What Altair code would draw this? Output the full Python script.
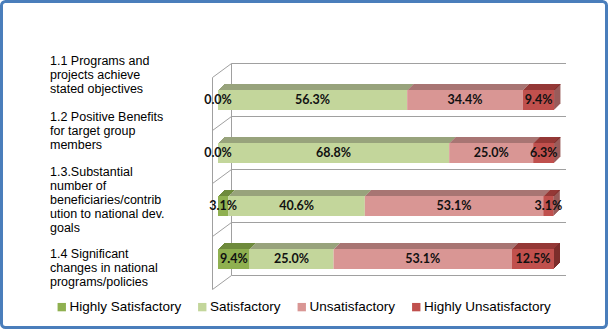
import altair as alt
import pandas as pd

# ---------------- data ----------------
categories = [
    "1.1 Programs and\nprojects achieve\nstated objectives",
    "1.2 Positive Benefits\nfor target group\nmembers",
    "1.3.Substantial\nnumber of\nbeneficiaries/contrib\nution to national dev.\ngoals",
    "1.4 Significant\nchanges in national\nprograms/policies",
]
ratings = ["Highly Satisfactory", "Satisfactory", "Unsatisfactory", "Highly Unsatisfactory"]
highly_satisfactory = [0.0, 0.0, 3.1, 9.4]
satisfactory = [56.3, 68.8, 40.6, 25.0]
unsatisfactory = [34.4, 25.0, 53.1, 53.1]
highly_unsatisfactory = [9.4, 6.3, 3.1, 12.5]

# ---------------- layout / style ----------------
W, H = 608, 330
X_RANGE = [218, 554]
Y_RANGE = [63.5, 275.5]
XPX = (X_RANGE[1] - X_RANGE[0]) / 100.0
YPX = (Y_RANGE[1] - Y_RANGE[0]) / len(categories)
BAR_H = 20
DEPTH = 6
LINE_H = 14
LABEL_SHIFT = [-15, -12.5, 3.5, 19]   # px, vertical shift of the category label blocks
front_colors = ["#8FB050", "#C3D69B", "#D99694", "#C0504D"]
top_colors = ["#6E8A3C", "#98A37C", "#A87573", "#943836"]
side_color = "#7C2D2B"
grid_color = "#A0A0A0"

xs = alt.Scale(domain=[0, 100], range=X_RANGE, nice=False, zero=False)
ys = alt.Scale(domain=[0, len(categories)], range=Y_RANGE, nice=False, zero=False)

series = [highly_satisfactory, satisfactory, unsatisfactory, highly_unsatisfactory]

fronts, tops, sides, labels = [], [], [], []
for i in range(len(categories)):
    start = 0.0
    yc = i + 0.5
    for r, vals in enumerate(series):
        v = vals[i]
        end = start + v
        labels.append(dict(x=(start + end) / 2, y=yc + (BAR_H / 2) / YPX, text=f"{v:.1f}%"))
        if v > 0:
            fronts.append(dict(rating=ratings[r], x=start, x2=end, y=yc, y2=yc + BAR_H / YPX))
            for k in range(1, DEPTH + 1):
                tops.append(dict(col=top_colors[r], x=start + k / XPX, x2=end + k / XPX,
                                 y=yc - k / YPX, y2=yc - (k - 1) / YPX))
        start = end
    for k in range(1, DEPTH + 1):
        sides.append(dict(col=side_color, x=start + (k - 1) / XPX, x2=start + k / XPX,
                          y=yc - k / YPX, y2=yc + (BAR_H - k) / YPX))

def px_x(p):
    return (p - X_RANGE[0]) / XPX

rules = []
n = len(categories)
for e in range(n + 1):
    rules.append(dict(x=px_x(231.5), x2=px_x(566), y=e, y2=e))
    rules.append(dict(x=px_x(212.5), x2=px_x(231.5), y=e + 14 / YPX, y2=e))
rules.append(dict(x=px_x(231.5), x2=px_x(231.5), y=0, y2=n))
rules.append(dict(x=px_x(212.5), x2=px_x(212.5), y=14 / YPX, y2=n + 14 / YPX))

cats = []
for i, c in enumerate(categories):
    nlines = c.count("\n") + 1
    shift = LABEL_SHIFT[i] - (nlines - 1) / 2 * LINE_H
    cats.append(dict(label=c, y=i + 0.5 + shift / YPX))

enc = dict(
    x=alt.X("x:Q", scale=xs, axis=None),
    x2="x2:Q",
    y=alt.Y("y:Q", scale=ys, axis=None),
    y2="y2:Q",
)

rule_layer = alt.Chart(pd.DataFrame(rules)).mark_rule(color=grid_color, strokeWidth=1).encode(**enc)

top_layer = alt.Chart(pd.DataFrame(tops)).mark_rect(strokeWidth=0).encode(
    fill=alt.Fill("col:N", scale=None, legend=None), **enc)

side_layer = alt.Chart(pd.DataFrame(sides)).mark_rect(strokeWidth=0).encode(
    fill=alt.Fill("col:N", scale=None, legend=None), **enc)

front_layer = alt.Chart(pd.DataFrame(fronts)).mark_rect(strokeWidth=0).encode(
    color=alt.Color(
        "rating:N",
        scale=alt.Scale(domain=ratings, range=front_colors),
        legend=alt.Legend(
            orient="none", legendX=55, legendY=300, direction="horizontal",
            title=None, symbolType="square", symbolSize=70, symbolStrokeWidth=0,
            labelFont="Liberation Sans", labelFontSize=13.5, labelColor="#000000",
            labelOffset=1, columnPadding=13.5, padding=0, labelLimit=300,
        ),
    ),
    **enc,
)

label_layer = alt.Chart(pd.DataFrame(labels)).mark_text(
    font="Lato", fontSize=12.5, fontWeight="bold", color="#111111",
    align="center", baseline="middle",
).encode(
    x=alt.X("x:Q", scale=xs, axis=None),
    y=alt.Y("y:Q", scale=ys, axis=None),
    text="text:N",
)

cat_layer = alt.Chart(pd.DataFrame(cats)).mark_text(
    font="Liberation Sans", fontSize=12.5, color="#000000", align="left",
    baseline="middle", lineBreak="\n", lineHeight=LINE_H,
).encode(
    x=alt.value(50),
    y=alt.Y("y:Q", scale=ys, axis=None),
    text="label:N",
)

border = alt.Chart(pd.DataFrame({"a": [0]})).mark_rect(
    fillOpacity=0, stroke="#4A7EBB", strokeWidth=3, cornerRadius=4,
).encode(
    x=alt.value(1.5), x2=alt.value(W - 1.5), y=alt.value(1.5), y2=alt.value(H - 2.5),
)

chart = alt.layer(
    rule_layer, top_layer, front_layer, side_layer, label_layer, cat_layer, border
).properties(
    width=W, height=H, padding=0, autosize="none", background="white"
).configure_view(stroke=None)

chart.save("out.html", embed_options={"renderer": "svg", "actions": False})
